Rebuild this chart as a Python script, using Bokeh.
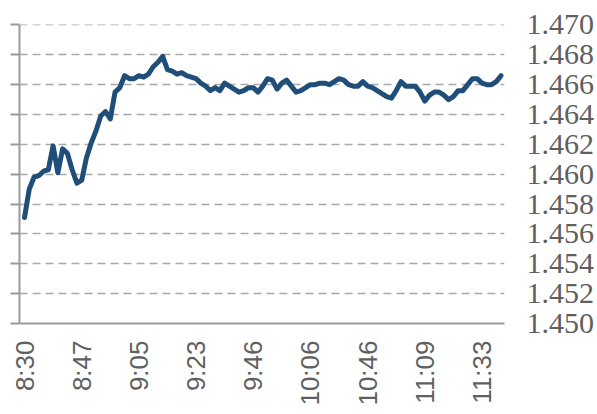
from bokeh.plotting import figure
from bokeh.models import Range1d, LinearAxis, FixedTicker
from bokeh.embed import file_html
from bokeh.resources import INLINE

# ---- data ----
values = [
    1.4571, 1.4590, 1.4598, 1.4599, 1.4602, 1.4603, 1.4619, 1.4601, 1.4617, 1.4614,
    1.4603, 1.4594, 1.4596, 1.4611, 1.4621, 1.4629, 1.4639, 1.4642, 1.4637, 1.4655,
    1.4658, 1.4666, 1.4664, 1.4664, 1.4666, 1.4665, 1.4667, 1.4672, 1.4675, 1.4679,
    1.4670, 1.4669, 1.4667, 1.4668, 1.4666, 1.4665, 1.4664, 1.4661, 1.4659, 1.4656,
    1.4658, 1.4656, 1.4661, 1.4659, 1.4657, 1.4655, 1.4656, 1.4658, 1.4658, 1.4655,
    1.4659, 1.4664, 1.4663, 1.4657, 1.4661, 1.4663, 1.4659, 1.4655, 1.4656, 1.4658,
    1.4660, 1.4660, 1.4661, 1.4661, 1.4660, 1.4662, 1.4664, 1.4663, 1.4660, 1.4659,
    1.4659, 1.4662, 1.4659, 1.4658, 1.4656, 1.4654, 1.4652, 1.4651, 1.4656, 1.4662,
    1.4659, 1.4659, 1.4659, 1.4655, 1.4649, 1.4653, 1.4655, 1.4655, 1.4653, 1.4650,
    1.4652, 1.4656, 1.4656, 1.4660, 1.4664, 1.4664, 1.4661, 1.4660, 1.4660, 1.4662,
    1.4666,
]
time_labels = ["8:30", "8:47", "9:05", "9:23", "9:46", "10:06", "10:46", "11:09", "11:33"]
points_per_label = 12
y_ticks = [1.450, 1.452, 1.454, 1.456, 1.458, 1.460, 1.462, 1.464, 1.466, 1.468, 1.470]
y_tick_labels = ["1.450", "1.452", "1.454", "1.456", "1.458", "1.460",
                 "1.462", "1.464", "1.466", "1.468", "1.470"]

x = list(range(len(values)))
x_ticks = [i * points_per_label for i in range(len(time_labels))]

GRAY_TXT = "#5f5f5f"
AXIS_GRAY = "#9a9a9a"

p = figure(width=597, height=414, output_backend="svg", toolbar_location=None,
           x_range=Range1d(-1.05, 100.73), y_range=Range1d(1.450, 1.47003),
           y_axis_location="right",
           min_border_left=19, min_border_top=24, min_border_right=92,
           min_border_bottom=91)
p.outline_line_color = None
p.background_fill_color = "white"
p.xgrid.grid_line_color = None

p.line(x, values, line_color="#1f4e79", line_width=5, line_join="round",
       line_cap="round")

# right axis (labels only)
ra = p.yaxis[0]
ra.ticker = FixedTicker(ticks=y_ticks)
ra.major_label_overrides = {t: s for t, s in zip(y_ticks, y_tick_labels)}
ra.axis_line_color = None
ra.major_tick_line_color = None
ra.minor_tick_line_color = None
ra.major_tick_out = 0
ra.major_tick_in = 0
ra.major_label_standoff = 22
ra.major_label_text_font = "Liberation Sans Narrow"
ra.major_label_text_font_size = "30px"
ra.major_label_text_color = GRAY_TXT

p.ygrid.ticker = FixedTicker(ticks=y_ticks[1:])
p.ygrid.grid_line_color = "#a8a8a8"
p.ygrid.grid_line_width = 1.6
p.ygrid.grid_line_dash = "8 5"

# left axis (line + outside ticks, no labels)
la = LinearAxis(ticker=FixedTicker(ticks=y_ticks))
la.major_label_overrides = {t: "" for t in y_ticks}
la.axis_line_color = AXIS_GRAY
la.axis_line_width = 2
la.major_tick_line_color = AXIS_GRAY
la.major_tick_line_width = 2
la.major_tick_out = 9
la.major_tick_in = 0
la.minor_tick_line_color = None
la.major_label_standoff = 0
p.add_layout(la, "left")

# bottom axis
xa = p.xaxis[0]
xa.ticker = FixedTicker(ticks=x_ticks)
xa.major_label_overrides = {t: s for t, s in zip(x_ticks, time_labels)}
xa.axis_line_color = AXIS_GRAY
xa.axis_line_width = 2
xa.major_tick_line_color = None
xa.minor_tick_line_color = None
xa.major_tick_out = 0
xa.major_tick_in = 0
xa.major_label_orientation = 1.5707963267948966
xa.major_label_standoff = 17
xa.major_label_text_font = "Liberation Sans"
xa.major_label_text_font_size = "26px"
xa.major_label_text_color = GRAY_TXT

open("out.html", "w").write(file_html(p, INLINE))
